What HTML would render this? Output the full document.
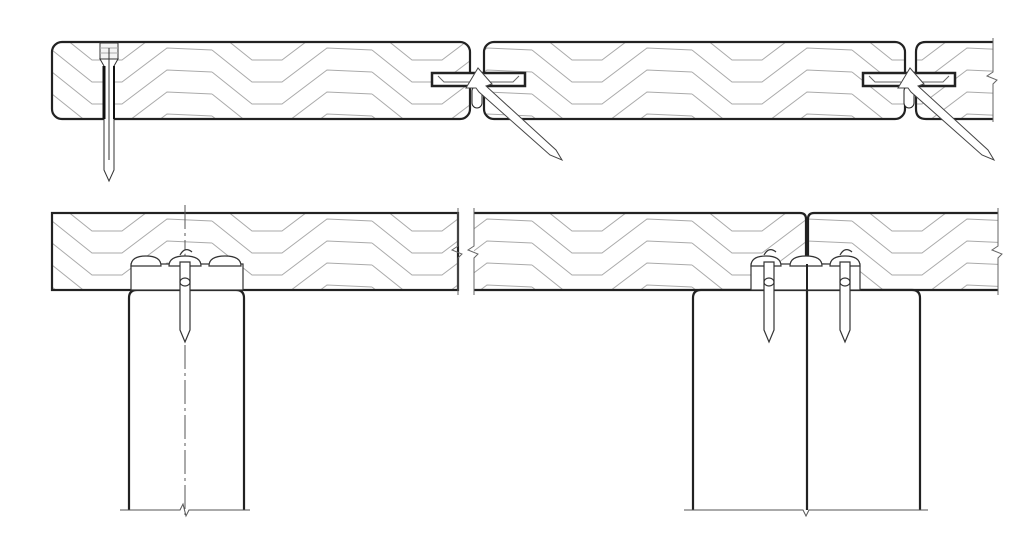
<!DOCTYPE html>
<html><head><style>html,body{margin:0;padding:0;background:#fff}svg{display:block}</style></head>
<body>
<svg width="1024" height="551" viewBox="0 0 1024 551" xmlns="http://www.w3.org/2000/svg">
<defs>
<pattern id="g1" x="52" y="42" width="160" height="77" patternUnits="userSpaceOnUse">
<g fill="none" stroke="#aaa" stroke-width="1">
<path d="M0,-14 L40,18 L70,18 L115,-16 L160,-14"/>
<path d="M0,8 L40,40 L70,40 L115,6 L160,8"/>
<path d="M0,30 L40,62 L70,62 L115,28 L160,30"/>
<path d="M0,52 L40,84 L70,84 L115,50 L160,52"/>
<path d="M0,74 L40,106 L70,106 L115,72 L160,74"/>
</g></pattern>
<pattern id="g2" x="52" y="213" width="160" height="77" patternUnits="userSpaceOnUse">
<g fill="none" stroke="#aaa" stroke-width="1">
<path d="M0,-14 L40,18 L70,18 L115,-16 L160,-14"/>
<path d="M0,8 L40,40 L70,40 L115,6 L160,8"/>
<path d="M0,30 L40,62 L70,62 L115,28 L160,30"/>
<path d="M0,52 L40,84 L70,84 L115,50 L160,52"/>
<path d="M0,74 L40,106 L70,106 L115,72 L160,74"/>
</g></pattern>
</defs>
<g stroke="#222" stroke-width="2.2">
<rect x="52" y="42" width="418" height="77" rx="10" fill="url(#g1)"/>
<rect x="484" y="42" width="421" height="77" rx="10" fill="url(#g1)"/>
<path d="M993,42 L926,42 Q916,42 916,52 L916,109 Q916,119 926,119 L993,119" fill="url(#g1)"/>
</g>
<path d="M993,38 L993,72 L987,76 L997,80 L993,84 L993,122" fill="none" stroke="#666" stroke-width="1"/>
<!-- nail 1 -->
<g fill="#fff" stroke="#333" stroke-width="1">
<rect x="100" y="43" width="18" height="16" fill="#f4f4f4"/>
<line x1="100" y1="48" x2="118" y2="48" stroke="#aaa"/><line x1="100" y1="53" x2="118" y2="53" stroke="#aaa"/>
<path d="M100,59 L104,66 L104,170 L109,181 L114,170 L114,66 L118,59 Z"/>
<line x1="109" y1="48" x2="109" y2="160"/>
</g>
<line x1="104" y1="66" x2="104" y2="119" stroke="#111" stroke-width="3"/>
<line x1="114" y1="66" x2="114" y2="119" stroke="#111" stroke-width="2"/>
<!-- clips top -->
<g stroke="#222" fill="#fff">
<rect x="432" y="73" width="93" height="13" stroke-width="2.5"/>
<rect x="863" y="73" width="92" height="13" stroke-width="2.5"/>
<rect x="472" y="86" width="10" height="22" rx="5" stroke-width="1"/>
<rect x="904" y="86" width="10" height="22" rx="5" stroke-width="1"/>
</g>
<g fill="none" stroke="#666" stroke-width="1">
<path d="M438,76 L444,82 L470,82"/><path d="M519,76 L513,82 L490,82"/>
<path d="M869,76 L875,82 L901,82"/><path d="M949,76 L943,82 L920,82"/>
</g>
<g fill="#fff" stroke="#444" stroke-width="1">
<path d="M466,88 L478,68 L492,84 L486,86 L556,150 L562,160 L550,155 L479,92 L476,88 Z"/>
<path d="M898,88 L910,68 L924,84 L918,86 L988,150 L994,160 L982,155 L911,92 L908,88 Z"/>
</g>
<!-- bottom boards -->
<g stroke="#222" stroke-width="2.2">
<rect x="52" y="213" width="406" height="77" fill="url(#g2)"/>
<path d="M474,213 L800,213 Q806,213 806,219 L806,284 L803,290 L474,290" fill="url(#g2)"/>
<path d="M998,213 L814,213 Q808,213 808,219 L808,290 L998,290" fill="url(#g2)"/>
</g>
<path d="M458,208 L458,246 L452,250 L462,254 L458,258 L458,295" fill="none" stroke="#666" stroke-width="1"/>
<path d="M474,208 L474,246 L468,250 L478,254 L474,258 L474,295" fill="none" stroke="#666" stroke-width="1"/>
<path d="M998,208 L998,246 L992,250 L1002,254 L998,258 L998,295" fill="none" stroke="#666" stroke-width="1"/>
<!-- posts -->
<g fill="#fff" stroke="#222" stroke-width="2.2">
<path d="M129,510 L129,298 Q129,290 137,290 L236,290 Q244,290 244,298 L244,510"/>
<path d="M693,510 L693,298 Q693,290 701,290 L912,290 Q920,290 920,298 L920,510"/>
<line x1="807" y1="290" x2="807" y2="510"/>
</g>
<g fill="none" stroke="#555" stroke-width="1">
<path d="M120,510 L180,510 L183,504 L186,516 L189,510 L250,510"/>
<path d="M684,510 L803,510 L806,516 L809,510 L928,510"/>
<line x1="185" y1="205" x2="185" y2="515" stroke-dasharray="24,4,3,4"/>
</g>
<!-- bottom clips -->
<g fill="#fff" stroke="#333" stroke-width="1.2">
<rect x="131" y="264" width="112" height="26"/>
<path d="M131,266 Q131,256 146,256 Q161,256 161,266 Z"/>
<path d="M169,266 Q169,256 185,256 Q201,256 201,266 Z"/>
<path d="M209,266 Q209,256 225,256 Q241,256 241,266 Z"/>
<rect x="751" y="264" width="109" height="26"/>
<path d="M751,266 Q751,256 766,256 Q781,256 781,266 Z"/>
<path d="M790,266 Q790,256 806,256 Q822,256 822,266 Z"/>
<path d="M830,266 Q830,256 845,256 Q860,256 860,266 Z"/>
<path d="M180,262 L180,330 L185,342 L190,330 L190,262 Z"/>
<path d="M764,262 L764,330 L769,342 L774,330 L774,262 Z"/>
<path d="M840,262 L840,330 L845,342 L850,330 L850,262 Z"/>
<path d="M180,255 Q185,246 192,252" />
<path d="M764,255 Q769,246 776,252" />
<path d="M840,255 Q845,246 852,252" />
<ellipse cx="185" cy="282" rx="5" ry="4"/>
<ellipse cx="769" cy="282" rx="5" ry="4"/>
<ellipse cx="845" cy="282" rx="5" ry="4"/>
</g>
<line x1="807" y1="264" x2="807" y2="290" stroke="#222" stroke-width="2"/>
</svg>
</body></html>
